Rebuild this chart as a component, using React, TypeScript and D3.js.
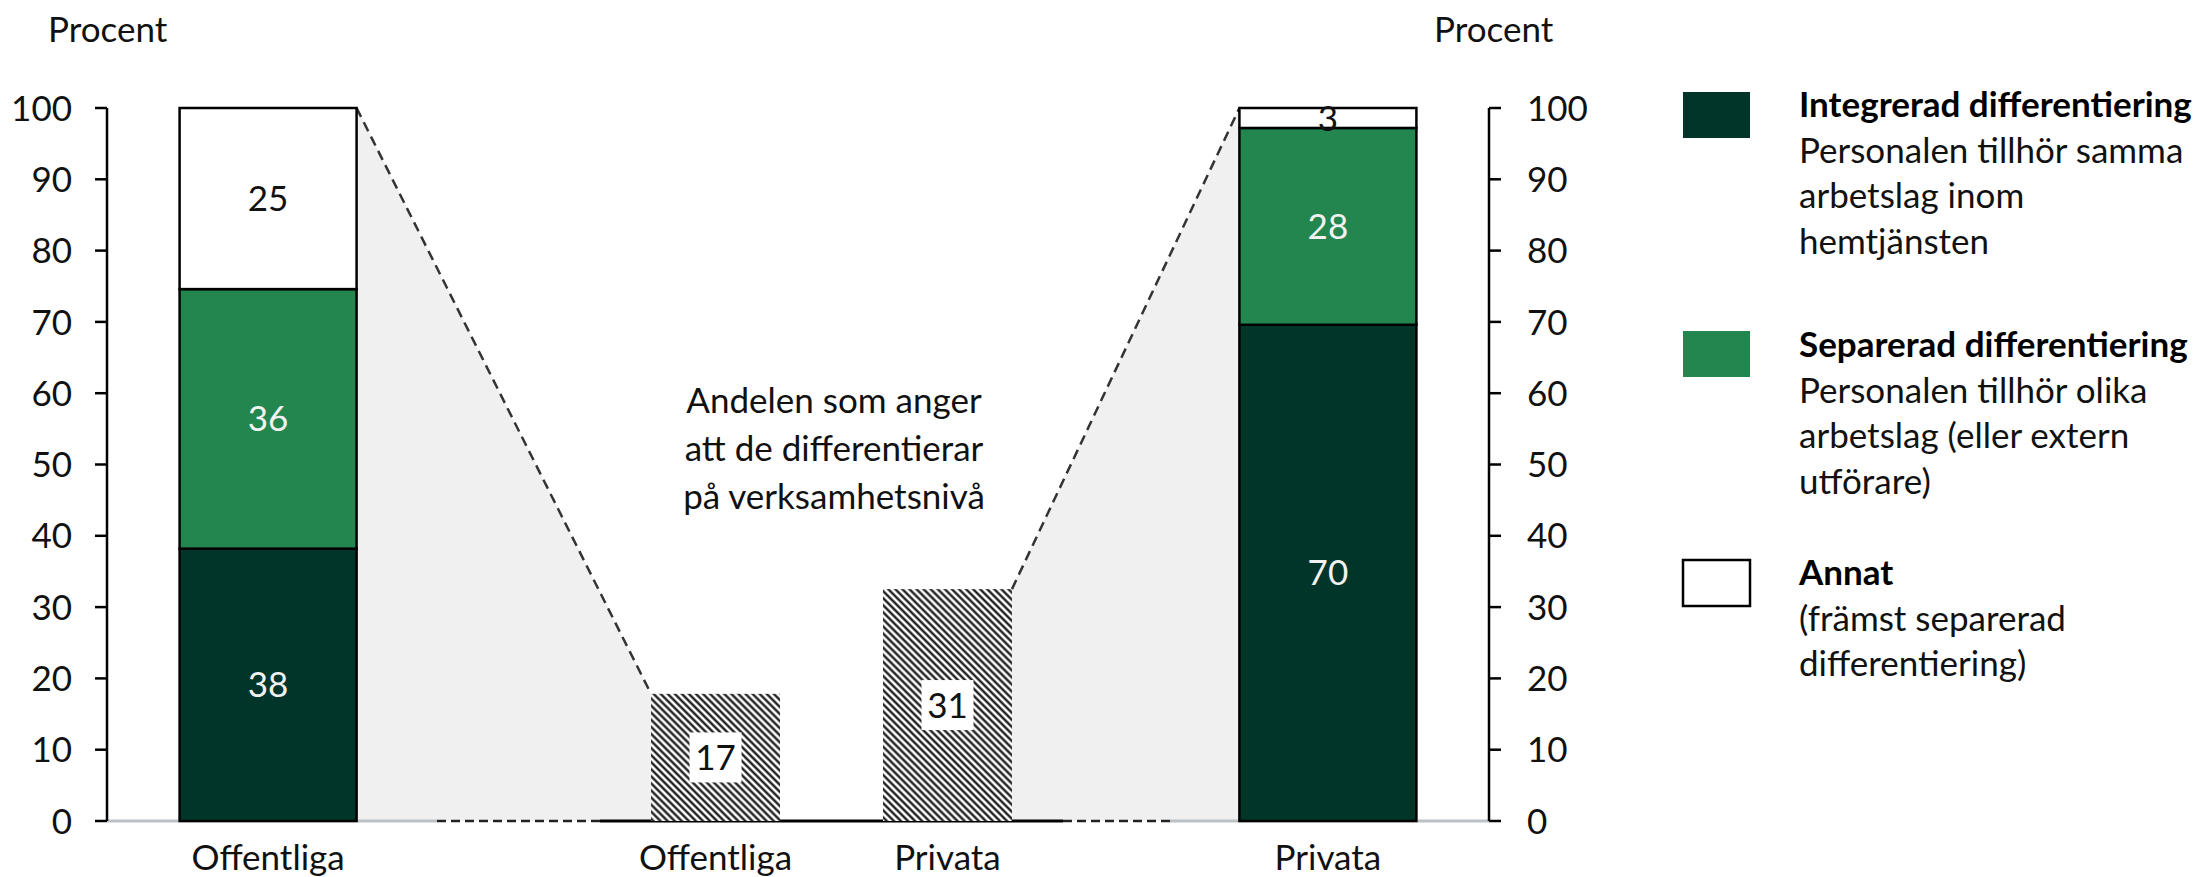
import React from "react";
import * as d3 from "d3";

// ---------- data ----------
const categories = ["Offentliga", "Privata"];
const integrerad = [38.2, 69.6];
const separerad = [36.4, 27.6];
const annat = [25.4, 2.8];
const verksamhetsniva = [17, 31];
const yTicks = [0, 10, 20, 30, 40, 50, 60, 70, 80, 90, 100];
const seriesKeys = ["integrerad", "separerad", "annat"];
const seriesNames = ["Integrerad differentiering", "Separerad differentiering", "Annat"];
const seriesDescriptions = [
  ["Personalen tillhör samma", "arbetslag inom", "hemtjänsten"],
  ["Personalen tillhör olika", "arbetslag (eller extern", "utförare)"],
  ["(främst separerad", "differentiering)"],
];
const seriesColors = ["#02352a", "#23864f", "#ffffff"];
const labelColors = ["#f2f2f2", "#f2f2f2", "#111111"];
const annotationLines = ["Andelen som anger", "att de differentierar", "på verksamhetsnivå"];
const axisTitle = "Procent";

// ---------- layout ----------
const W = 2194;
const H = 877;
const FONT = "Lato, 'Open Sans', sans-serif";
const FS = 35;
const leftAxisX = 107;
const rightAxisX = 1489;
const baseY = 821;
const topY = 108;
const innerLeft = 600;
const innerRight = 1063;

export default function App() {
  const y = d3.scaleLinear().domain([0, 100]).range([baseY, topY]);
  const yi = d3.scaleLinear().domain([0, 100]).range([baseY, 73]);
  const xo = d3
    .scaleBand<string>()
    .domain(categories)
    .range([leftAxisX, rightAxisX])
    .paddingInner(0.833)
    .paddingOuter(0.0685);
  const xi = d3
    .scaleBand<string>()
    .domain(categories)
    .range([innerLeft, innerRight])
    .paddingInner(0.444)
    .paddingOuter(0.22);

  const rows = categories.map((c, i) => ({
    cat: c,
    integrerad: integrerad[i],
    separerad: separerad[i],
    annat: annat[i],
  }));
  const stacked = d3.stack<any>().keys(seriesKeys)(rows);

  const ob = xo.bandwidth();
  const ib = xi.bandwidth();

  const leftPoly: [number, number][] = [
    [xo("Offentliga")! + ob, y(100)],
    [xi("Offentliga")!, yi(verksamhetsniva[0])],
    [xi("Offentliga")!, baseY],
    [xo("Offentliga")! + ob, baseY],
  ];
  const rightPoly: [number, number][] = [
    [xi("Privata")! + ib, yi(verksamhetsniva[1])],
    [xo("Privata")!, y(100)],
    [xo("Privata")!, baseY],
    [xi("Privata")! + ib, baseY],
  ];
  const line = d3.line();

  const fmt = d3.format(".0f");
  const legendTops = [92, 331, 560];
  const legendTitleY = [117, 357, 585];
  const lh = 45.5;

  return (
    <svg
      width={W}
      height={H}
      viewBox={`0 0 ${W} ${H}`}
      style={{ position: "absolute", left: 0, top: 0, display: "block", background: "#fff" }}
      fontFamily={FONT}
    >
      <defs>
        <pattern
          id="hatch"
          patternUnits="userSpaceOnUse"
          width={5}
          height={5}
          patternTransform="rotate(-45)"
        >
          <rect width={5} height={5} fill="#fff" />
          <line x1={1.5} y1={0} x2={1.5} y2={5} stroke="#0a0a0a" strokeWidth={2.2} />
        </pattern>
      </defs>

      {/* shaded connectors */}
      <path d={line(leftPoly)! + "Z"} fill="#f0f0f0" />
      <path d={line(rightPoly)! + "Z"} fill="#f0f0f0" />

      {/* baseline pieces */}
      <line x1={leftAxisX} x2={437} y1={baseY} y2={baseY} stroke="#bcc1c5" strokeWidth={3} />
      <line x1={1170} x2={rightAxisX} y1={baseY} y2={baseY} stroke="#bcc1c5" strokeWidth={3} />
      <line x1={437} x2={innerLeft} y1={baseY} y2={baseY} stroke="#222" strokeWidth={2.5} strokeDasharray="9 5" />
      <line x1={innerRight} x2={1170} y1={baseY} y2={baseY} stroke="#222" strokeWidth={2.5} strokeDasharray="9 5" />
      <line x1={innerLeft} x2={innerRight} y1={baseY} y2={baseY} stroke="#000" strokeWidth={3} />

      {/* dashed connector lines */}
      <line
        x1={leftPoly[0][0]}
        y1={leftPoly[0][1]}
        x2={leftPoly[1][0]}
        y2={leftPoly[1][1]}
        stroke="#333"
        strokeWidth={2.5}
        strokeDasharray="10 6"
      />
      <line
        x1={rightPoly[0][0]}
        y1={rightPoly[0][1]}
        x2={rightPoly[1][0]}
        y2={rightPoly[1][1]}
        stroke="#333"
        strokeWidth={2.5}
        strokeDasharray="10 6"
      />

      {/* inner hatched bars */}
      {categories.map((c, i) => {
        const x0 = xi(c)!;
        const yTop = yi(verksamhetsniva[i]);
        const cy = (yTop + baseY) / 2;
        return (
          <g key={"in" + c}>
            <rect x={x0} y={yTop} width={ib} height={baseY - yTop} fill="url(#hatch)" />
            <rect x={x0 + ib / 2 - 26} y={cy - 25} width={52} height={50} fill="#fff" />
            <text
              x={x0 + ib / 2}
              y={cy}
              dy="0.36em"
              textAnchor="middle"
              fontSize={FS}
              fill="#111"
            >
              {fmt(verksamhetsniva[i])}
            </text>
          </g>
        );
      })}

      {/* outer stacked bars */}
      {stacked.map((s, si) =>
        s.map((d: any) => {
          const x0 = xo(d.data.cat)!;
          return (
            <rect
              key={s.key + d.data.cat}
              x={x0}
              y={y(d[1])}
              width={ob}
              height={y(d[0]) - y(d[1])}
              fill={seriesColors[si]}
              stroke="#000"
              strokeWidth={2.5}
            />
          );
        })
      )}
      {stacked.map((s, si) =>
        s.map((d: any) => {
          const x0 = xo(d.data.cat)!;
          return (
            <text
              key={"t" + s.key + d.data.cat}
              x={x0 + ob / 2}
              y={(y(d[0]) + y(d[1])) / 2}
              dy="0.36em"
              textAnchor="middle"
              fontSize={FS}
              fill={labelColors[si]}
            >
              {fmt(d[1] - d[0])}
            </text>
          );
        })
      )}

      {/* axes */}
      <line x1={leftAxisX} x2={leftAxisX} y1={topY} y2={baseY} stroke="#000" strokeWidth={2.5} />
      <line x1={rightAxisX} x2={rightAxisX} y1={topY} y2={baseY} stroke="#000" strokeWidth={2.5} />
      {yTicks.map((t) => (
        <g key={"tk" + t}>
          <line x1={leftAxisX - 12} x2={leftAxisX} y1={y(t)} y2={y(t)} stroke="#000" strokeWidth={2.5} />
          <text x={72} y={y(t)} dy="0.36em" textAnchor="end" fontSize={FS} fill="#111">
            {t}
          </text>
          <line x1={rightAxisX} x2={rightAxisX + 12} y1={y(t)} y2={y(t)} stroke="#000" strokeWidth={2.5} />
          <text x={1527} y={y(t)} dy="0.36em" textAnchor="start" fontSize={FS} fill="#111">
            {t}
          </text>
        </g>
      ))}
      <text x={48} y={42} fontSize={FS} fill="#111">
        {axisTitle}
      </text>
      <text x={1434} y={42} fontSize={FS} fill="#111">
        {axisTitle}
      </text>

      {/* category labels */}
      {categories.map((c) => (
        <text key={"xo" + c} x={xo(c)! + ob / 2} y={870} textAnchor="middle" fontSize={FS} fill="#111">
          {c}
        </text>
      ))}
      {categories.map((c) => (
        <text key={"xi" + c} x={xi(c)! + ib / 2} y={870} textAnchor="middle" fontSize={FS} fill="#111">
          {c}
        </text>
      ))}

      {/* annotation */}
      {annotationLines.map((l, i) => (
        <text key={"an" + i} x={834} y={413 + i * 48} textAnchor="middle" fontSize={FS} fill="#111">
          {l}
        </text>
      ))}

      {/* legend */}
      {seriesNames.map((n, i) => (
        <g key={"lg" + i}>
          <rect
            x={1683}
            y={legendTops[i]}
            width={67}
            height={46}
            fill={seriesColors[i]}
            stroke={i === 2 ? "#000" : "none"}
            strokeWidth={2.5}
          />
          <text x={1799} y={legendTitleY[i]} fontSize={FS} fontWeight="bold" fill="#000">
            {n}
          </text>
          {seriesDescriptions[i].map((l, j) => (
            <text key={j} x={1799} y={legendTitleY[i] + (j + 1) * lh} fontSize={FS} fill="#111">
              {l}
            </text>
          ))}
        </g>
      ))}
    </svg>
  );
}
